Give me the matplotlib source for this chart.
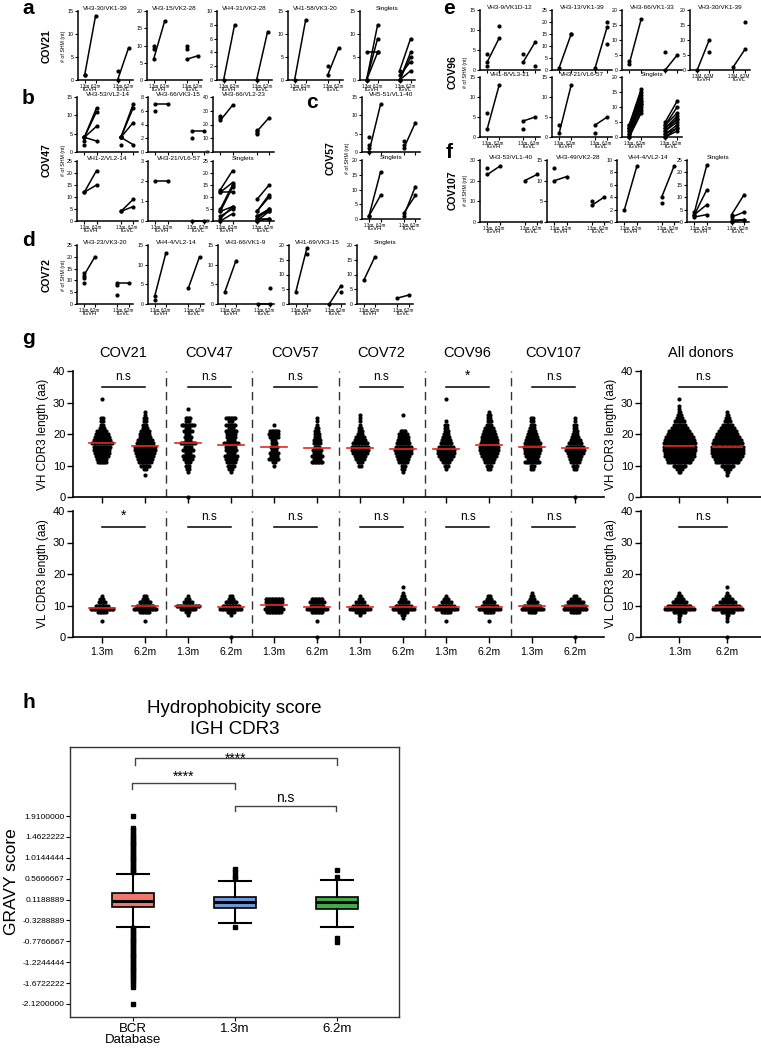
import numpy as np
import matplotlib
matplotlib.use('Agg')
import matplotlib.pyplot as plt

plt.rcParams['font.family'] = ['Liberation Sans', 'DejaVu Sans']

W, H = 761, 1050

# ---------------- panels a-f : SHM (nt), pairs are (1.3m, 6.2m); None = one timepoint only
COV21_TITLES = ['VH3-30/VK1-39', 'VH3-15/VK2-28', 'VH4-31/VK2-28', 'VH1-58/VK3-20', 'Singlets']
COV21_YMAX = [15, 20, 10, 15, 15]
COV21_YSTEP = [5, 5, 2, 5, 5]
COV21_VH = [[(1, 14), (1, None)], [(6, 17), (10, None), (9, None)], [(0, 8)], [(0, 13)],
            [(6, 6), (0, 12), (0, 9), (0, 6)]]
COV21_VL = [[(0, 7), (2, None)], [(6, 7), (10, None), (9, None)], [(0, 7)], [(1, 7), (3, None)],
            [(2, 9), (0, 6), (0, 5), (1, 4), (0, 2)]]

COV47_TITLES = ['VH3-53/VL2-14', 'VH3-66/VK3-15', 'VH3-66/VL2-23', 'VH1-2/VL2-14', 'VH3-21/VL6-57', 'Singlets']
COV47_YMAX = [15, 8, 40, 25, 3, 25]
COV47_YSTEP = [5, 2, 10, 5, 1, 5]
COV47_VH = [[(4, 12), (4, 11), (4, 7), (4, 3), (3, None), (2, None)], [(7, 7), (6, None)],
            [(23, 34), (25, None), (26, None)], [(12, 21), (12, 15)], [(2, 2)],
            [(13, 21), (12, 12), (12, 16), (5, 15), (4, 14), (4, 6), (2, 5), (1, 6), (0, 3)]]
COV47_VL = [[(4, 13), (4, 12), (4, 8), (4, 2), (2, None)], [(3, 3), (2, None)],
            [(15, 25), (14, None), (13, None), (16, None)], [(4, 9), (4, 6)], [(0, 0)],
            [(9, 15), (4, 11), (4, 10), (2, 5), (1, 5), (0, 4), (2, 4), (1, 1), (0, 1)]]

COV57_TITLES = ['VH5-51/VL1-40', 'Singlets']
COV57_YMAX = [15, 20]
COV57_YSTEP = [5, 5]
COV57_VH = [[(0, 13), (4, None), (2, None), (1, None)], [(1, 16), (1, 8)]]
COV57_VL = [[(1, 8), (3, None), (2, None)], [(1, 11), (2, 8)]]

COV72_TITLES = ['VH3-23/VK3-20', 'VH4-4/VL2-14', 'VH3-66/VK1-9', 'VH1-69/VK3-15', 'Singlets']
COV72_YMAX = [25, 15, 15, 20, 20]
COV72_YSTEP = [5, 5, 5, 5, 5]
COV72_VH = [[(12, 20), (13, None), (11, None), (9, None)], [(2, 13), (1, None)], [(3, 11)],
            [(4, 19), (None, 17)], [(8, 16)]]
COV72_VL = [[(9, 9), (8, None), (4, None)], [(4, 12)], [(0, 0), (None, 4)], [(0, 6), (None, 4)], [(2, 3)]]

COV96_TITLES = ['VH3-9/VK1D-12', 'VH3-13/VK1-39', 'VH3-66/VK1-33', 'VH3-30/VK1-39',
                'VH1-8/VL3-21', 'VH3-21/VL6-57', 'Singlets']
COV96_YMAX = [15, 25, 20, 20, 15, 15, 20]
COV96_YSTEP = [5, 5, 5, 5, 5, 5, 5]
COV96_VH = [[(2, 8), (4, None), (1, None), (None, 11)], [(1, 15), (None, 15)], [(2, 17), (3, None)],
            [(0, 10), (None, 6)], [(2, 13), (6, None)], [(1, 13), (3, None)],
            [(4, 16), (4, 15), (3, 14), (3, 13), (3, 12), (2, 12), (2, 11), (1, 11), (1, 10), (0, 9), (0, 8)]]
COV96_VL = [[(2, 7), (4, None), (None, 1)], [(1, 18), (None, 20), (None, 11)], [(0, 5), (6, None)],
            [(1, 7), (None, 16)], [(4, 5), (2, None)], [(3, 5), (1, None)],
            [(5, 12), (4, 10), (4, 8), (3, 7), (3, 6), (2, 6), (2, 5), (1, 4), (1, 3), (0, 3), (0, 2)]]

COV107_TITLES = ['VH3-53/VL1-40', 'VH3-49/VK2-28', 'VH4-4/VL2-14', 'Singlets']
COV107_YMAX = [30, 15, 10, 25]
COV107_YSTEP = [10, 5, 2, 5]
COV107_VH = [[(23, 27), (26, None)], [(10, 11), (13, None)], [(2, 9)], [(4, 23), (3, 13), (3, 7), (2, 3)]]
COV107_VL = [[(20, 23)], [(4, 6), (5, None)], [(4, 9), (3, None)], [(3, 11), (2, 4), (1, 1), (0, 1)]]

# ---------------- panel g : CDR3 length counts (length, n)
DONORS = ['COV21', 'COV47', 'COV57', 'COV72', 'COV96', 'COV107']
VH_COV21_13 = [(11, 6), (12, 7), (13, 9), (14, 10), (15, 11), (16, 12), (17, 14), (18, 12), (19, 10), (20, 9),
               (21, 7), (22, 4), (23, 2), (24, 2), (25, 2), (31, 1)]
VH_COV21_62 = [(7, 1), (9, 2), (10, 6), (11, 9), (12, 10), (13, 12), (14, 13), (15, 14), (16, 14), (17, 12),
               (18, 10), (19, 8), (20, 7), (21, 6), (22, 4), (23, 3), (24, 2), (25, 2), (26, 1), (27, 1)]
VH_COV47_13 = [(0, 1), (8, 1), (9, 2), (10, 3), (11, 4), (12, 6), (13, 8), (14, 4), (15, 8), (16, 5), (17, 10),
               (18, 4), (19, 5), (20, 3), (21, 6), (22, 3), (23, 9), (24, 3), (25, 4), (28, 1)]
VH_COV47_62 = [(8, 1), (9, 3), (10, 5), (11, 6), (12, 8), (13, 9), (14, 5), (15, 8), (16, 7), (17, 10), (18, 5),
               (19, 6), (20, 6), (21, 8), (22, 4), (23, 7), (24, 3), (25, 7)]
VH_COV57_13 = [(10, 1), (11, 2), (12, 7), (13, 5), (14, 6), (15, 4), (16, 5), (17, 4), (18, 3), (19, 6), (20, 7),
               (21, 6), (23, 1)]
VH_COV57_62 = [(11, 8), (12, 5), (13, 7), (14, 5), (15, 6), (16, 4), (17, 5), (18, 5), (19, 4), (20, 4), (21, 3),
               (22, 2), (23, 1), (24, 1), (25, 1)]
VH_COV72_13 = [(10, 2), (11, 4), (12, 6), (13, 8), (14, 10), (15, 12), (16, 12), (17, 10), (18, 8), (19, 6),
               (20, 4), (21, 3), (22, 2), (23, 1), (24, 1), (25, 1), (26, 1)]
VH_COV72_62 = [(8, 1), (9, 2), (10, 3), (11, 6), (12, 8), (13, 9), (14, 11), (15, 12), (16, 11), (17, 9),
               (18, 8), (19, 7), (20, 6), (21, 4), (26, 1)]
VH_COV96_13 = [(9, 1), (10, 3), (11, 5), (12, 8), (13, 10), (14, 12), (15, 12), (16, 10), (17, 8), (18, 6),
               (19, 5), (20, 4), (21, 3), (22, 2), (23, 2), (24, 1), (31, 1)]
VH_COV96_62 = [(9, 2), (10, 4), (11, 6), (12, 8), (13, 10), (14, 12), (15, 13), (16, 13), (17, 12), (18, 11),
               (19, 10), (20, 9), (21, 8), (22, 6), (23, 4), (24, 3), (25, 2), (26, 2), (27, 1)]
VH_COV107_13 = [(9, 2), (10, 3), (11, 10), (12, 7), (13, 9), (14, 10), (15, 11), (16, 12), (17, 11), (18, 9),
                (19, 8), (20, 6), (21, 5), (22, 4), (23, 3), (24, 2), (25, 2)]
VH_COV107_62 = [(0, 1), (9, 2), (10, 4), (11, 6), (12, 8), (13, 9), (14, 11), (15, 13), (16, 12), (17, 9),
                (18, 7), (19, 5), (20, 4), (21, 3), (22, 2), (23, 2), (24, 1), (25, 1)]
VH_ALL_13 = [(8, 2), (9, 4), (10, 8), (11, 14), (12, 16), (13, 18), (14, 18), (15, 19), (16, 19), (17, 19),
             (18, 18), (19, 17), (20, 15), (21, 13), (22, 10), (23, 8), (24, 6), (25, 4), (26, 3), (27, 2),
             (28, 1), (29, 1), (31, 1)]
VH_ALL_62 = [(7, 1), (8, 2), (9, 4), (10, 8), (11, 14), (12, 16), (13, 18), (14, 19), (15, 19), (16, 19),
             (17, 18), (18, 17), (19, 15), (20, 13), (21, 11), (22, 9), (23, 6), (24, 4), (25, 3), (26, 2), (27, 1)]

VL_COV21_13 = [(5, 1), (8, 6), (9, 16), (10, 9), (11, 5), (12, 3), (13, 1)]
VL_COV21_62 = [(5, 1), (8, 7), (9, 16), (10, 12), (11, 8), (12, 4), (13, 2)]
VL_COV47_13 = [(7, 1), (8, 3), (9, 10), (10, 16), (11, 6), (12, 3), (13, 1)]
VL_COV47_62 = [(0, 1), (7, 1), (8, 5), (9, 15), (10, 12), (11, 8), (12, 4), (13, 2)]
VL_COV57_13 = [(8, 10), (9, 13), (10, 10), (11, 12), (12, 12)]
VL_COV57_62 = [(0, 1), (5, 1), (8, 8), (9, 14), (10, 9), (11, 10), (12, 8)]
VL_COV72_13 = [(7, 1), (8, 6), (9, 14), (10, 10), (11, 6), (12, 3), (13, 1)]
VL_COV72_62 = [(6, 1), (7, 2), (8, 6), (9, 15), (10, 11), (11, 7), (12, 4), (13, 2), (14, 1), (16, 1)]
VL_COV96_13 = [(5, 1), (8, 6), (9, 15), (10, 11), (11, 7), (12, 4), (13, 1)]
VL_COV96_62 = [(5, 1), (8, 6), (9, 15), (10, 11), (11, 8), (12, 4), (13, 2)]
VL_COV107_13 = [(8, 5), (9, 15), (10, 12), (11, 7), (12, 4), (13, 2), (14, 1)]
VL_COV107_62 = [(0, 1), (8, 6), (9, 16), (10, 14), (11, 11), (12, 6), (13, 2)]
VL_ALL_13 = [(5, 1), (6, 1), (7, 2), (8, 8), (9, 18), (10, 14), (11, 9), (12, 5), (13, 3), (14, 1)]
VL_ALL_62 = [(0, 1), (5, 1), (6, 1), (7, 2), (8, 8), (9, 18), (10, 15), (11, 10), (12, 6), (13, 3), (14, 1), (16, 1)]

VH_MEANS = [17.2, 16.2, 17.0, 16.5, 16.0, 15.6, 15.5, 15.2, 15.3, 16.6, 16.0, 15.5]
VL_MEANS = [9.3, 9.7, 9.9, 9.6, 10.2, 9.4, 9.4, 9.5, 9.5, 9.6, 9.7, 9.9]
ALL_VH_MEANS = [16.2, 15.8]
ALL_VL_MEANS = [9.6, 9.6]
VH_STATS = ['n.s', 'n.s', 'n.s', 'n.s', '*', 'n.s']
VL_STATS = ['*', 'n.s', 'n.s', 'n.s', 'n.s', 'n.s']

# ---------------- panel h : GRAVY score boxplots
H_LABELS = ['BCR\nDatabase', '1.3m', '6.2m']
H_COLORS = ['#F2776B', '#6E98D8', '#3DAE49']
H_MED = [0.094, 0.06, 0.06]
H_Q1 = [-0.047, -0.056, -0.09]
H_Q3 = [0.253, 0.181, 0.18]
H_WLO = [-0.463, -0.377, -0.46]
H_WHI = [0.667, 0.517, 0.53]
BCR_FLIERS = [0.70, 0.74, 0.78, 0.82, 0.86, 0.90, 0.94, 0.98, 1.02, 1.06, 1.10, 1.14, 1.18, 1.22, 1.26, 1.30,
              1.34, 1.38, 1.42, 1.46, 1.50, 1.54, 1.60, 1.66, 1.91,
              -0.50, -0.54, -0.58, -0.62, -0.66, -0.70, -0.74, -0.78, -0.82, -0.86, -0.90, -0.94, -0.98, -1.02,
              -1.06, -1.10, -1.14, -1.18, -1.22, -1.26, -1.30, -1.34, -1.38, -1.42, -1.46, -1.50, -1.54, -1.58,
              -1.63, -1.70, -1.76, -2.12]
M13_FLIERS = [0.78, 0.72, 0.62, 0.58, -0.476]
M62_FLIERS = [0.75, 0.61, -0.70, -0.79]
GRAVY_TICKS = [1.91, 1.4622222, 1.0144444, 0.5666667, 0.1188889, -0.3288889, -0.7766667, -1.2244444,
               -1.6722222, -2.12]

fig = plt.figure(figsize=(W / 100, H / 100), dpi=100)


def px_axes(left, top, w, h):
    return fig.add_axes([left / W, 1 - (top + h) / H, w / W, h / H])


def ftext(x, y, s, **kw):
    fig.text(x / W, 1 - y / H, s, **kw)


def shm_panel(left, top, w, h, title, ymax, ystep, vh, vl, xlab=True, tl=('1.3m', '6.2m')):
    ax = px_axes(left, top, w, h)
    for pairs, (x0, x1) in [(vh, (0, 1)), (vl, (3, 4))]:
        for a, b in pairs:
            if a is not None and b is not None:
                ax.plot([x0, x1], [a, b], '-o', color='k', lw=1.1, ms=2, clip_on=False)
            elif a is not None:
                ax.plot([x0], [a], 'o', color='k', ms=2, clip_on=False)
            else:
                ax.plot([x1], [b], 'o', color='k', ms=2, clip_on=False)
    ax.set_xlim(-0.6, 4.4)
    ax.set_ylim(0, ymax)
    ax.set_yticks(np.arange(0, ymax + ystep / 2, ystep))
    ax.set_xticks([0, 1, 3, 4])
    for s in ['top', 'right']:
        ax.spines[s].set_visible(False)
    for s in ['left', 'bottom']:
        ax.spines[s].set_linewidth(1.1)
    ax.tick_params(length=2, width=0.8, labelsize=3.8, pad=1)
    ax.tick_params(axis='x', labelsize=3.3, pad=0.8)
    if xlab:
        ax.set_xticklabels([tl[0], tl[1], tl[0], tl[1]])
        for xc, g in [(0.5, 'IGVH'), (3.5, 'IGVL')]:
            ax.annotate(g, xy=(xc, 0), xycoords=('data', 'axes fraction'), xytext=(0, -5.2),
                        textcoords='offset points', ha='center', va='top', fontsize=4.2)
    else:
        ax.set_xticklabels([])
    ax.annotate(title, xy=(0.5, 1), xycoords='axes fraction', xytext=(0, 1.5),
                textcoords='offset points', ha='center', va='center', fontsize=4.6)
    return ax


def donor_label(x, y, s):
    ftext(x, y, s, rotation=90, fontsize=7.5, fontweight='bold', ha='center', va='center')


def shm_label(x, y):
    ftext(x, y, '# of SHM (nt)', rotation=90, fontsize=3.8, ha='center', va='center')


def letter(x, y, s):
    ftext(x, y, s, fontsize=15, fontweight='bold', ha='left', va='center')


# panel a
lefts = [78, 147, 217, 288, 360]
for i in range(5):
    shm_panel(lefts[i], 11, 55, 69, COV21_TITLES[i], COV21_YMAX[i], COV21_YSTEP[i], COV21_VH[i], COV21_VL[i])
letter(22, 8, 'a')
donor_label(47, 46, 'COV21')
shm_label(63, 46)

# panel b
b_pos = [(77, 97, 55), (148, 97, 55), (213, 97, 55), (77, 161, 60), (148, 161, 60), (213, 161, 60)]
for i, (l, t, hh) in enumerate(b_pos):
    shm_panel(l, t, 61, hh, COV47_TITLES[i], COV47_YMAX[i], COV47_YSTEP[i], COV47_VH[i], COV47_VL[i],
              xlab=(i >= 3))
letter(22, 98, 'b')
donor_label(47, 160, 'COV47')
shm_label(63, 160)

# panel c
for i, (t, hh) in enumerate([(97, 55), (160, 59)]):
    shm_panel(362, t, 58, hh, COV57_TITLES[i], COV57_YMAX[i], COV57_YSTEP[i], COV57_VH[i], COV57_VL[i],
              xlab=(i == 1))
letter(306, 102, 'c')
donor_label(331, 158, 'COV57')
shm_label(347, 158)

# panel d
lefts = [77, 148, 218, 289, 357]
for i in range(5):
    shm_panel(lefts[i], 245, 56, 59, COV72_TITLES[i], COV72_YMAX[i], COV72_YSTEP[i], COV72_VH[i], COV72_VL[i])
letter(22, 240, 'd')
donor_label(47, 275, 'COV72')
shm_label(63, 275)

# panel e
e_pos = [(480, 10), (552, 10), (622, 10), (690, 10), (480, 77), (552, 77), (622, 77)]
for i, (l, t) in enumerate(e_pos):
    shm_panel(l, t, 60, 60, COV96_TITLES[i], COV96_YMAX[i], COV96_YSTEP[i], COV96_VH[i], COV96_VL[i],
              xlab=(i >= 3), tl=('1.3M', '6.2M') if i == 3 else ('1.3m', '6.2m'))
letter(443, 8, 'e')
donor_label(453, 72, 'COV96')
shm_label(466, 72)

# panel f
lefts = [480, 547, 617, 687]
for i in range(4):
    shm_panel(lefts[i], 160, 62, 62, COV107_TITLES[i], COV107_YMAX[i], COV107_YSTEP[i], COV107_VH[i],
              COV107_VL[i])
letter(446, 153, 'f')
donor_label(453, 190, 'COV107')
shm_label(466, 190)


# panel g
def swarm(ax, x, counts, dx):
    xs, ys = [], []
    for length, n in counts:
        offs = (np.arange(n) - (n - 1) / 2) * dx
        xs.extend(x + offs)
        ys.extend([length] * n)
    ax.scatter(xs, ys, s=9, c='k', lw=0, clip_on=False, zorder=2)


def g_axes(left, top, w, xlim, ylabel):
    ax = px_axes(left, top, w, 126)
    ax.set_xlim(*xlim)
    ax.set_ylim(0, 40)
    ax.set_yticks([0, 10, 20, 30, 40])
    for s in ['top', 'right']:
        ax.spines[s].set_visible(False)
    for s in ['left', 'bottom']:
        ax.spines[s].set_linewidth(1.2)
    ax.tick_params(length=4, width=1, labelsize=8, pad=1.5)
    ax.set_ylabel(ylabel, fontsize=8.5, labelpad=3)
    return ax


def stat_bar(ax, x0, x1, s):
    ax.plot([x0, x1], [35, 35], color='k', lw=1.1)
    ax.text((x0 + x1) / 2, 36.3, s, ha='center', va='bottom', fontsize=8.5 if s == 'n.s' else 10)


vh_groups = [VH_COV21_13, VH_COV21_62, VH_COV47_13, VH_COV47_62, VH_COV57_13, VH_COV57_62,
             VH_COV72_13, VH_COV72_62, VH_COV96_13, VH_COV96_62, VH_COV107_13, VH_COV107_62]
vl_groups = [VL_COV21_13, VL_COV21_62, VL_COV47_13, VL_COV47_62, VL_COV57_13, VL_COV57_62,
             VL_COV72_13, VL_COV72_62, VL_COV96_13, VL_COV96_62, VL_COV107_13, VL_COV107_62]

for top, groups, means, stats, ylab in [(371, vh_groups, VH_MEANS, VH_STATS, 'VH CDR3 length (aa)'),
                                        (511, vl_groups, VL_MEANS, VL_STATS, 'VL CDR3 length (aa)')]:
    ax = g_axes(73, top, 531, (-0.67, 11.67), ylab)
    for i, cnt in enumerate(groups):
        swarm(ax, i, cnt, 0.035)
        ax.plot([i - 0.3, i + 0.3], [means[i], means[i]], color='#E8251F', lw=1.2, zorder=3)
    for k in range(5):
        ax.axvline(2 * k + 1.5, color='#333333', lw=1, dashes=(6, 4))
    for k in range(6):
        stat_bar(ax, 2 * k, 2 * k + 1, stats[k])
    ax.set_xticks(range(12))
    if top == 511:
        ax.set_xticklabels(['1.3m', '6.2m'] * 6, fontsize=7.5)
        ax.tick_params(axis='x', pad=3)
    else:
        ax.set_xticklabels([])

for top, groups, means, ylab in [(371, [VH_ALL_13, VH_ALL_62], ALL_VH_MEANS, 'VH CDR3 length (aa)'),
                                 (511, [VL_ALL_13, VL_ALL_62], ALL_VL_MEANS, 'VL CDR3 length (aa)')]:
    ax = g_axes(641, top, 120, (-0.8, 1.7), ylab)
    for i, cnt in enumerate(groups):
        swarm(ax, i, cnt, 0.035)
        ax.plot([i - 0.3, i + 0.3], [means[i], means[i]], color='#E8251F', lw=1.2, zorder=3)
    stat_bar(ax, 0, 1, 'n.s')
    ax.set_xticks([0, 1])
    if top == 511:
        ax.set_xticklabels(['1.3m', '6.2m'], fontsize=7.5)
        ax.tick_params(axis='x', pad=3)
    else:
        ax.set_xticklabels([])

letter(22, 338, 'g')
for i, d in enumerate(DONORS):
    ftext(73 + (2 * i + 0.67 + 0.5) * 43.0, 353, d, fontsize=10.5, ha='center', va='center')
ftext(701, 353, 'All donors', fontsize=10.5, ha='center', va='center')

# panel h
ax = px_axes(70, 747, 329, 270)
stats = []
fliers = [BCR_FLIERS, M13_FLIERS, M62_FLIERS]
for i in range(3):
    stats.append(dict(med=H_MED[i], q1=H_Q1[i], q3=H_Q3[i], whislo=H_WLO[i], whishi=H_WHI[i],
                      fliers=fliers[i], label=H_LABELS[i]))
bp = ax.bxp(stats, positions=[1, 2, 3], widths=0.41, patch_artist=True, capwidths=0.31,
            boxprops=dict(lw=1.2, edgecolor='k'), medianprops=dict(color='k', lw=2.2),
            whiskerprops=dict(lw=1.5), capprops=dict(lw=1.5),
            flierprops=dict(marker='s', ms=2.6, mfc='k', mec='k'))
for patch, c in zip(bp['boxes'], H_COLORS):
    patch.set_facecolor(c)
ax.set_xlim(0.38, 3.61)
ax.set_ylim(-2.40, 3.39)
ax.set_yticks(GRAVY_TICKS)
ax.set_yticklabels(['%.7f' % v for v in GRAVY_TICKS])
ax.tick_params(axis='y', labelsize=6, length=3, pad=1)
ax.tick_params(axis='x', labelsize=9.5, length=3, pad=1)
for lab in ax.get_xticklabels():
    lab.set_linespacing(0.95)
ax.set_ylabel('GRAVY score', fontsize=12.5, labelpad=2)
for s in ax.spines.values():
    s.set_linewidth(1.0)
    s.set_color('#333333')


def bracket(x0, x1, y, text, dy=0.13, ty=0.02, va='bottom'):
    ax.plot([x0, x0, x1, x1], [y - dy, y, y, y - dy], color='#444444', lw=1.0)
    ax.text((x0 + x1) / 2, y + ty, text, ha='center', va=va, fontsize=10)


bracket(1.02, 3.0, 3.15, '****', 0.15, -0.02, 'center')
bracket(0.99, 2.0, 2.61, '****', 0.12, 0.0)
bracket(2.0, 2.99, 2.13, 'n.s', 0.12, 0.02)
ax.set_title('Hydrophobicity score\nIGH CDR3', fontsize=13.5, pad=9, linespacing=1.35)
letter(22, 703, 'h')

fig.savefig('out.png', dpi=100)
